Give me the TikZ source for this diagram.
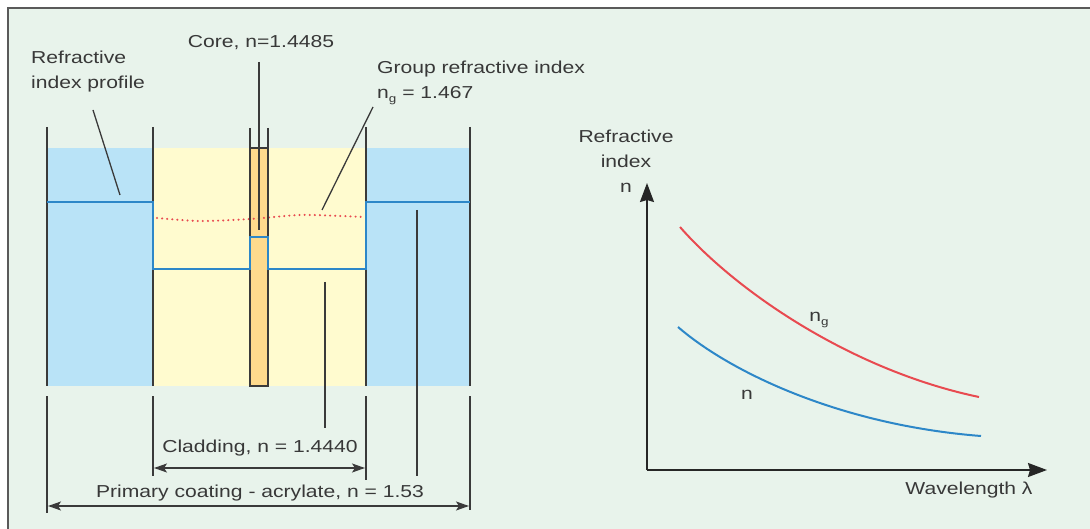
\documentclass[tikz,border=0pt]{standalone}
\usepackage{fontspec}
\setmainfont{Liberation Sans}[FakeStretch=1.22]
\usetikzlibrary{arrows.meta}
\definecolor{bg}{HTML}{E8F3EB}
\definecolor{coatblue}{HTML}{B9E3F7}
\definecolor{cladyellow}{HTML}{FFFBCF}
\definecolor{coreorange}{HTML}{FEDA8D}
\definecolor{profblue}{HTML}{2D87C8}
\definecolor{curvered}{HTML}{E84A50}
\definecolor{dark}{HTML}{3A3A3A}
\definecolor{txt}{HTML}{383838}
\definecolor{frame}{HTML}{5A5A5A}
\tikzset{
  lbl/.style={text=txt, font=\fontsize{17.3}{25}\selectfont, inner sep=0pt},
  blk/.style={draw=dark, line width=1.7pt},
  leader/.style={draw=dark, line width=1.3pt},
  prof/.style={draw=profblue, line width=2pt},
  reddots/.style={draw=curvered, line width=2.2pt, line cap=round, dash pattern=on 0.1pt off 5pt},
  dimarrow/.style={draw=dark, line width=1.6pt, {Stealth[length=13pt,width=9pt,inset=3pt]}-{Stealth[length=13pt,width=9pt,inset=3pt]}},
  axisarrow/.style={draw=black!85, line width=1.8pt, -{Stealth[length=19pt,width=14pt,inset=2pt]}},
  curve/.style={line width=2pt}
}
\newcommand{\ngsub}{n\raisebox{-0.45ex}{\fontsize{11}{11}\selectfont g}}
\begin{document}
\begin{tikzpicture}[x=1pt,y=-1pt]
\useasboundingbox (0,0) rectangle (1090,529);
\fill[white] (0,0) rectangle (1090,529);
\fill[bg] (8,8) rectangle (1090,529);
\draw[frame, line width=2pt] (8,529) -- (8,8) -- (1090,8);

% fills
\fill[coatblue] (47,148) rectangle (153,386);
\fill[coatblue] (366,148) rectangle (470,386);
\fill[cladyellow] (153,148) rectangle (366,386);
\fill[coreorange] (250,148) rectangle (268,386);

% red dotted group index line
\draw[reddots] plot[smooth] coordinates {(157,218) (200,221) (250,219) (300,215) (340,216) (364,217)};

% black outlines
\draw[blk] (47,127) -- (47,386);
\draw[blk] (470,127) -- (470,386);
\draw[blk] (153,127) -- (153,202);
\draw[blk] (153,269) -- (153,386);
\draw[blk] (366,127) -- (366,202);
\draw[blk] (366,269) -- (366,386);
\draw[blk] (250,128) -- (250,237);
\draw[blk] (268,128) -- (268,237);
\draw[blk] (250,148) -- (268,148);
\draw[blk] (250,269) -- (250,386) -- (268,386) -- (268,269);

% refractive index profile
\draw[prof] (47,202) -- (153,202) -- (153,269) -- (250,269) -- (250,237) -- (268,237) -- (268,269) -- (366,269) -- (366,202) -- (470,202);

% labels
\node[lbl, anchor=west, align=left] (rip) at (31,72) {Refractive\\index profile};
\node[lbl] (core) at (261,43) {Core, n=1.4485};
\node[lbl, anchor=west, align=left] (grp) at (377,83) {Group refractive index\\\ngsub{} = 1.467};
\node[lbl] (clad) at (260,448) {Cladding, n = 1.4440};
\node[lbl] (coat) at (260,493) {Primary coating - acrylate, n = 1.53};

% leader lines
\coordinate (ripA) at (93,110);   \coordinate (ripB) at (120,195);
\coordinate (coreA) at (259,62);  \coordinate (coreB) at (259,230);
\coordinate (grpA) at (373,107);  \coordinate (grpB) at (322,210);
\coordinate (cladA) at (325,282); \coordinate (cladB) at (325,428);
\coordinate (coatA) at (417,210); \coordinate (coatB) at (417,476);
\draw[leader] (ripA) -- (ripB);
\draw[leader] (coreA) -- (coreB);
\draw[leader] (grpA) -- (grpB);
\draw[leader] (cladA) -- (cladB);
\draw[leader] (coatA) -- (coatB);

% dimension ticks
\draw[blk] (47,396) -- (47,513);
\draw[blk] (153,396) -- (153,476);
\draw[blk] (366,396) -- (366,480);
\draw[blk] (470,396) -- (470,510);
\coordinate (cL) at (154,468); \coordinate (cR) at (365,468);
\coordinate (pL) at (48,506);  \coordinate (pR) at (469,506);
\draw[dimarrow] (cL) -- (cR);
\draw[dimarrow] (pL) -- (pR);

% graph
\coordinate (origin) at (647,470);
\coordinate (ytip) at (647,183);
\coordinate (xtip) at (1047,470);
\draw[axisarrow] (origin) -- (ytip);
\draw[axisarrow] (origin) -- (xtip);
\node[lbl, align=center] (ylab) at (626,161) {Refractive\\index\\n};
\node[lbl] (xlab) at (969,490) {Wavelength λ};

\coordinate (rS) at (680,227); \coordinate (rE) at (979,397);
\coordinate (bS) at (678,327); \coordinate (bE) at (981,436);
\draw[curve, curvered] (rS) .. controls (735,290) and (850,370) .. (rE);
\draw[curve, profblue] (bS) .. controls (730,372) and (840,425) .. (bE);
\node[lbl] (nglab) at (819,320) {\ngsub};
\node[lbl] (nlab) at (747,395) {n};
\end{tikzpicture}
\end{document}
